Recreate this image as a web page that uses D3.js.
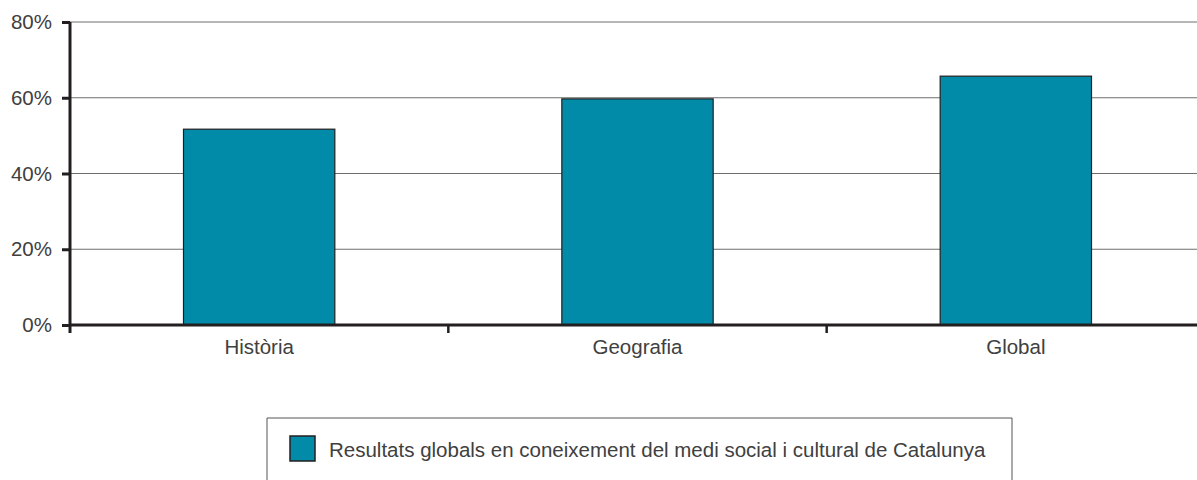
<!DOCTYPE html>
<html><head><meta charset="utf-8">
<script src="https://cdn.jsdelivr.net/npm/d3@7"></script>
<style>body{margin:0;background:#fff;}svg{display:block;font-family:"Liberation Sans",Arial,sans-serif;}</style>
</head><body><svg id="c" width="1197" height="480"></svg>
<script>
const categories = ["Història", "Geografia", "Global"];
const values = [51.7, 59.7, 65.7];
const yTicks = [0, 20, 40, 60, 80];
const seriesName = "Resultats globals en coneixement del medi social i cultural de Catalunya";

const svg = d3.select("#c");
const x0 = 70, x1 = 1205, yTop = 22, yBot = 325;
const x = d3.scaleBand().domain(categories).range([x0, x1]).paddingInner(0.6).paddingOuter(0.3);
const y = d3.scaleLinear().domain([0, 80]).range([yBot, yTop]);
const fill = "#018ba8", dark = "#231f20", txt = "#404040", fs = 20.5;

// gridlines
svg.append("g").selectAll("line").data(yTicks.filter(d => d > 0)).join("line")
  .attr("x1", x0).attr("x2", 1197).attr("y1", d => y(d)).attr("y2", d => y(d))
  .attr("stroke", "#6e6e6e").attr("stroke-width", 1.2);

// bars
svg.append("g").selectAll("rect").data(categories).join("rect")
  .attr("x", d => x(d)).attr("width", x.bandwidth())
  .attr("y", (d, i) => y(values[i])).attr("height", (d, i) => y(0) - y(values[i]))
  .attr("fill", fill).attr("stroke", dark).attr("stroke-width", 1.2);

// y axis
const ya = svg.append("g").attr("transform", `translate(${x0},0)`)
  .call(d3.axisLeft(y).tickValues(yTicks).tickFormat(d => d + "%").tickSize(8).tickPadding(10));
ya.select(".domain").attr("stroke", dark).attr("stroke-width", 3).attr("d", `M0,${yTop}V${yBot + 8}`);
ya.selectAll(".tick line").attr("stroke", dark).attr("stroke-width", 3);
ya.selectAll(".tick text").attr("fill", txt).attr("font-size", fs).attr("font-family", "Liberation Sans, Arial, sans-serif");

// x axis
const step = x.step();
const bounds = categories.slice(1).map(c => x(c) - step * x.paddingInner() / 2);
svg.append("line").attr("x1", x0).attr("x2", 1197).attr("y1", yBot).attr("y2", yBot)
  .attr("stroke", dark).attr("stroke-width", 3);
svg.append("g").selectAll("line").data(bounds).join("line")
  .attr("x1", d => d).attr("x2", d => d).attr("y1", yBot).attr("y2", yBot + 8)
  .attr("stroke", dark).attr("stroke-width", 2.5);
svg.append("g").selectAll("text").data(categories).join("text")
  .attr("x", d => x(d) + x.bandwidth() / 2).attr("y", 354)
  .attr("text-anchor", "middle").attr("font-size", fs).attr("fill", txt).text(d => d);

// legend
svg.append("path").attr("d", "M267,482V418H1012V482").attr("fill", "none").attr("stroke", "#555").attr("stroke-width", 1);
svg.append("rect").attr("x", 290).attr("y", 436).attr("width", 25).attr("height", 25)
  .attr("fill", fill).attr("stroke", dark).attr("stroke-width", 1.5);
svg.append("text").attr("x", 329).attr("y", 457).attr("font-size", fs).attr("fill", txt).text(seriesName);
</script></body></html>
